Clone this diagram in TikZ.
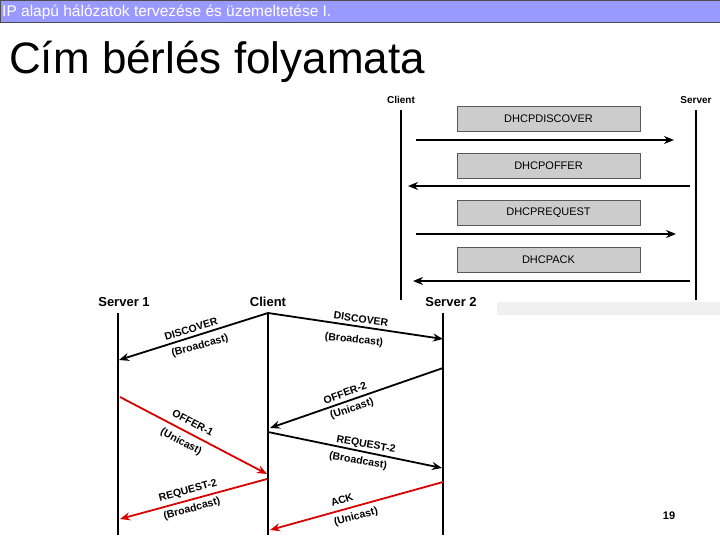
\documentclass[tikz,border=0pt]{standalone}
\usepackage{fontspec}
\setmainfont{Liberation Sans}
\usetikzlibrary{arrows.meta}
\begin{document}
\begin{tikzpicture}[x=1pt,y=-1pt,
 life/.style={line width=1.8pt},
 msg/.style={line width=1.8pt,-{Stealth[length=10pt,width=8pt]}},
 red msg/.style={msg,draw=red!85!black},
 box/.style={draw=gray!70!black,fill=gray!40,minimum width=183pt,minimum height=25pt,inner sep=0pt,font=\fontsize{11}{12}\selectfont},
 hdr/.style={font=\bfseries\fontsize{10}{11}\selectfont},
 hdrb/.style={font=\bfseries\fontsize{13}{15}\selectfont},
 lbl/.style={font=\bfseries\fontsize{10.5}{12}\selectfont,inner sep=0pt}]
\useasboundingbox (0,0) rectangle (720,540);
\fill[white] (0,0) rectangle (720,540);
\node[draw=black!70,fill={rgb,255:red,153;green,153;blue,255},minimum width=720pt,minimum height=22pt,anchor=north west,inner sep=0pt] (bar) at (0,0) {};
\node[anchor=base west,text=white,font=\fontsize{15.5}{17}\selectfont,inner sep=0pt] (htxt) at (2,17) {IP alapú hálózatok tervezése és üzemeltetése I.};
\node[anchor=base west,font=\fontsize{44}{48}\selectfont,inner sep=0pt] (title) at (9,74) {Cím bérlés folyamata};
% top right diagram
\fill[gray!12] (497,302) rectangle (720,315);
\node[hdr] (tc) at (401,100) {Client};
\node[hdr] (ts) at (696,100) {Server};
\coordinate (tc1) at (401,110); \coordinate (tc2) at (401,300);
\coordinate (ts1) at (696,110); \coordinate (ts2) at (696,300);
\draw[life] (tc1) -- (tc2); \draw[life] (ts1) -- (ts2);
\node[box] (b1) at (548.5,118.5) {DHCPDISCOVER};
\node[box] (b2) at (548.5,165.5) {DHCPOFFER};
\node[box] (b3) at (548.5,212.5) {DHCPREQUEST};
\node[box] (b4) at (548.5,259.5) {DHCPACK};
\coordinate (a1s) at (416,140); \coordinate (a1e) at (674,140);
\coordinate (a2s) at (690,186); \coordinate (a2e) at (408,186);
\coordinate (a3s) at (416,234); \coordinate (a3e) at (676,234);
\coordinate (a4s) at (690,281); \coordinate (a4e) at (413,281);
\draw[msg] (a1s) -- (a1e); \draw[msg] (a2s) -- (a2e);
\draw[msg] (a3s) -- (a3e); \draw[msg] (a4s) -- (a4e);
% bottom diagram
\node[hdrb] (s1) at (124,302) {Server 1};
\node[hdrb] (cl) at (268,302) {Client};
\node[hdrb] (s2) at (451,302) {Server 2};
\coordinate (s1t) at (118,313); \coordinate (s1b) at (118,535);
\coordinate (clt) at (268,313); \coordinate (clb) at (268,535);
\coordinate (s2t) at (443,313); \coordinate (s2b) at (443,535);
\draw[life] (s1t) -- (s1b); \draw[life] (clt) -- (clb); \draw[life] (s2t) -- (s2b);
\coordinate (p1) at (119,360); \coordinate (p2) at (443,339);
\coordinate (p3) at (443,368); \coordinate (p4) at (270,428);
\coordinate (p5) at (268,432); \coordinate (p6) at (442,468);
\coordinate (r1) at (120,397); \coordinate (r2) at (267,474);
\coordinate (r3) at (267,479); \coordinate (r4) at (120,519);
\coordinate (r5) at (443,482); \coordinate (r6) at (270,530);
\draw[msg] (clt) -- (p1); \draw[msg] (clt) -- (p2);
\draw[msg] (p3) -- (p4); \draw[msg] (p5) -- (p6);
\draw[red msg] (r1) -- (r2); \draw[red msg] (r3) -- (r4); \draw[red msg] (r5) -- (r6);
\node[lbl,rotate=17] (l1) at (191,329) {DISCOVER};
\node[lbl,rotate=15] (l1b) at (200,346) {(Broadcast)};
\node[lbl,rotate=-8] (l2) at (361,319) {DISCOVER};
\node[lbl,rotate=-6] (l2b) at (354,340) {(Broadcast)};
\node[lbl,rotate=20] (l3) at (345,393) {OFFER-2};
\node[lbl,rotate=18] (l3b) at (352,409) {(Unicast)};
\node[lbl,rotate=-28] (l4) at (193,423) {OFFER-1};
\node[lbl,rotate=-28] (l4b) at (181,442) {(Unicast)};
\node[lbl,rotate=-10] (l5) at (366,445) {REQUEST-2};
\node[lbl,rotate=-10] (l5b) at (358,461) {(Broadcast)};
\node[lbl,rotate=15] (l6) at (188,491) {REQUEST-2};
\node[lbl,rotate=15] (l6b) at (192,509) {(Broadcast)};
\node[lbl,rotate=18] (l7) at (342,500) {ACK};
\node[lbl,rotate=15] (l7b) at (356,517) {(Unicast)};
\node[font=\bfseries\fontsize{11}{12}\selectfont] (pg) at (669,516) {19};
\end{tikzpicture}
\end{document}
